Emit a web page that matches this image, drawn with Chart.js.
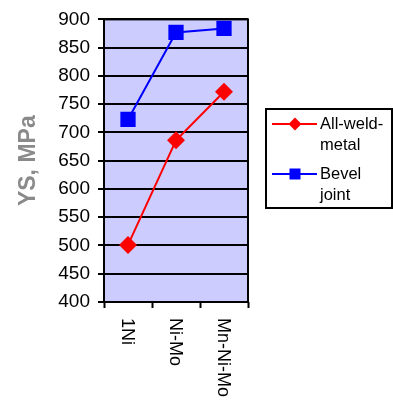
<!DOCTYPE html>
<html>
<head>
<meta charset="utf-8">
<script src="https://cdn.jsdelivr.net/npm/chart.js@4/dist/chart.umd.min.js"></script>
<style>
  html, body { margin: 0; padding: 0; background: #ffffff; }
  #wrap { width: 393px; height: 403px; }
</style>
</head>
<body>
<div id="wrap"><canvas id="c" width="393" height="403"></canvas></div>
<script>
// Alloy systems on the x axis
const categories = ['1Ni', 'Ni-Mo', 'Mn-Ni-Mo'];
// Yield strength, MPa
const allWeldMetal = [501, 686, 772];
const bevelJoint = [723, 877, 884];
// Legend text (wrapped onto two lines)
const legendLabels = [['All-weld-', 'metal'], ['Bevel', 'joint']];
// Y axis range and step
const yMin = 400, yMax = 900, yStep = 50;

const FONT = 'Arial, "Liberation Sans", sans-serif';

// Plot background and frame
const plotFrame = {
  id: 'plotFrame',
  beforeDraw(chart) {
    const { ctx, chartArea: a } = chart;
    ctx.save();
    ctx.fillStyle = '#ccccff';
    ctx.fillRect(a.left, a.top, a.right - a.left, a.bottom - a.top);
    ctx.restore();
  },
  beforeDatasetsDraw(chart) {
    const { ctx, chartArea: a } = chart;
    ctx.save();
    ctx.strokeStyle = '#000000';
    ctx.lineWidth = 2;
    ctx.strokeRect(a.left, a.top, a.right - a.left, a.bottom - a.top);
    ctx.restore();
  }
};

// Category labels written top-to-bottom under each point
const verticalLabels = {
  id: 'verticalLabels',
  afterDraw(chart) {
    const { ctx } = chart;
    const xs = chart.scales.x;
    ctx.save();
    ctx.fillStyle = '#000000';
    ctx.font = '18px ' + FONT;
    ctx.textAlign = 'left';
    ctx.textBaseline = 'middle';
    categories.forEach((c, i) => {
      const x = xs.getPixelForValue(i);
      ctx.save();
      ctx.translate(x - 1, xs.top + 16);
      ctx.rotate(Math.PI / 2);
      ctx.fillText(c, 0, 0);
      ctx.restore();
    });
    ctx.restore();
  }
};

// Boxed legend on the right with wrapped labels
const boxLegend = {
  id: 'boxLegend',
  afterDraw(chart) {
    const { ctx } = chart;
    const bx = 266, by = 109, bw = 126, bh = 99;
    ctx.save();
    ctx.fillStyle = '#ffffff';
    ctx.fillRect(bx, by, bw, bh);
    ctx.strokeStyle = '#000000';
    ctx.lineWidth = 2;
    ctx.strokeRect(bx, by, bw, bh);
    const rows = [124, 174];
    chart.data.datasets.forEach((ds, i) => {
      const y = rows[i];
      ctx.strokeStyle = ds.borderColor;
      ctx.lineWidth = 2;
      ctx.beginPath();
      ctx.moveTo(272, y);
      ctx.lineTo(317, y);
      ctx.stroke();
      ctx.fillStyle = ds.backgroundColor;
      const mx = 295;
      if (ds.pointStyle === 'rect') {
        ctx.fillRect(mx - 5.5, y - 5.5, 11, 11);
      } else {
        ctx.beginPath();
        ctx.moveTo(mx - 6.5, y);
        ctx.lineTo(mx, y - 6.5);
        ctx.lineTo(mx + 6.5, y);
        ctx.lineTo(mx, y + 6.5);
        ctx.closePath();
        ctx.fill();
      }
      ctx.fillStyle = '#000000';
      ctx.font = '16.5px ' + FONT;
      ctx.textAlign = 'left';
      ctx.textBaseline = 'middle';
      legendLabels[i].forEach((t, k) => ctx.fillText(t, 320, y + k * 21));
    });
    ctx.restore();
  }
};

new Chart(document.getElementById('c'), {
  type: 'line',
  data: {
    labels: categories,
    datasets: [
      {
        label: 'All-weld-metal',
        data: allWeldMetal,
        borderColor: '#ff0000',
        backgroundColor: '#ff0000',
        borderWidth: 2,
        pointStyle: 'rectRot',
        pointRadius: 9,
        pointBorderWidth: 0,
        pointHoverRadius: 9,
        tension: 0
      },
      {
        label: 'Bevel joint',
        data: bevelJoint,
        borderColor: '#0000ff',
        backgroundColor: '#0000ff',
        borderWidth: 2,
        pointStyle: 'rect',
        pointRadius: 10.8,
        pointBorderWidth: 0,
        pointHoverRadius: 10.8,
        tension: 0
      }
    ]
  },
  options: {
    responsive: false,
    animation: false,
    events: [],
    layout: { padding: { left: 0, top: 17, right: 145, bottom: 0 } },
    plugins: {
      legend: { display: false },
      tooltip: { enabled: false }
    },
    scales: {
      x: {
        type: 'category',
        offset: true,
        border: { display: false },
        grid: {
          offset: true,
          drawOnChartArea: false,
          drawTicks: true,
          tickLength: 6,
          tickWidth: 2,
          tickColor: '#000000'
        },
        ticks: { display: false },
        afterFit(scale) { scale.height = 101; }
      },
      y: {
        min: yMin,
        max: yMax,
        border: { display: false },
        grid: {
          color: '#000000',
          lineWidth: 2,
          drawTicks: true,
          tickLength: 6,
          tickColor: '#000000'
        },
        ticks: {
          stepSize: yStep,
          color: '#000000',
          padding: 8,
          font: { family: FONT, size: 19 }
        },
        title: {
          display: true,
          text: 'YS, MPa',
          color: '#8a8a8a',
          padding: { top: 15, bottom: 0 },
          font: { family: FONT, size: 23, weight: 'bold' }
        },
        afterFit(scale) { scale.width = 104; }
      }
    }
  },
  plugins: [plotFrame, verticalLabels, boxLegend]
});
</script>
</body>
</html>
